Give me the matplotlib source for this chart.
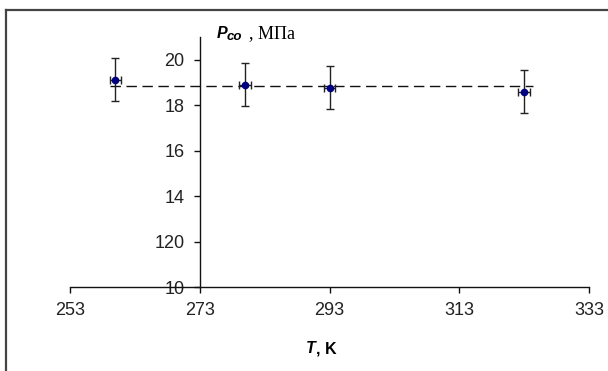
import matplotlib
matplotlib.use("Agg")
import matplotlib.pyplot as plt
from matplotlib.lines import Line2D

# measured points: temperature, K and pressure, MPa
temps = [260, 280, 293, 323]
temp_err = [0.9, 0.9, 0.9, 0.9]
pressures = [19.13, 18.90, 18.77, 18.59]
pressure_err = [0.95, 0.95, 0.95, 0.95]

# mean level shown as dashed line
mean_x = [259.2, 324.3]
mean_p = [18.85, 18.85]

x_ticks = [253, 273, 293, 313, 333]
y_ticks = [10, 12, 14, 16, 18, 20]
y_tick_labels = ["10", "120", "14", "16", "18", "20"]

W, H = 608, 371
fig = plt.figure(figsize=(W / 100, H / 100), dpi=100)
fig.patch.set_facecolor("white")

ax = fig.add_axes([70 / W, (H - 287) / H, 519 / W, 250 / H])
ax.set_xlim(253, 333)
ax.set_ylim(10, 21)

for side in ["top", "right"]:
    ax.spines[side].set_visible(False)
ax.spines["left"].set_position(("data", 273))
for side in ["left", "bottom"]:
    ax.spines[side].set_linewidth(1.0)
    ax.spines[side].set_color("#111111")

ax.set_xticks(x_ticks)
ax.set_xticklabels([str(t) for t in x_ticks])
ax.set_yticks(y_ticks)
ax.set_yticklabels(y_tick_labels)
ax.tick_params(direction="out", length=4.5, width=1.0, color="#111111",
               labelsize=13, labelcolor="#222222")
ax.tick_params(axis="x", pad=6.5)
ax.tick_params(axis="y", pad=6.5)
for lab in ax.get_xticklabels() + ax.get_yticklabels():
    lab.set_family("Liberation Sans")

ax.plot(mean_x, mean_p, color="#111111", lw=1.0, dashes=(7.5, 4), zorder=2)

ax.errorbar(temps, pressures, xerr=temp_err, yerr=pressure_err, fmt="o",
            color="#000080", markersize=4.5, ecolor="#222222",
            elinewidth=1.0, capsize=3.2, capthick=1.0, zorder=3)

# axis titles
fig.text(316 / W, 1 - 353 / H, "T", fontsize=11.5, fontweight="bold",
         fontstyle="italic", family="Liberation Sans", ha="right", va="baseline")
fig.text(316 / W, 1 - 353 / H, ", K", fontsize=11.5, fontweight="bold",
         family="Liberation Sans", ha="left", va="baseline")

fig.text(217 / W, 1 - 38 / H, "P", fontsize=11.5, fontweight="bold",
         fontstyle="italic", family="Liberation Sans", ha="left", va="baseline")
fig.text(227 / W, 1 - 40 / H, "co", fontsize=9.5, fontweight="bold",
         fontstyle="italic", family="Liberation Sans", ha="left", va="baseline")
fig.text(249 / W, 1 - 38 / H, ", МПа", fontsize=13, family="Liberation Serif",
         ha="left", va="baseline")

# chart area border (left and top edges only)
fig.add_artist(Line2D([6 / W, 6 / W], [0, 1 - 10 / H], transform=fig.transFigure,
                      color="#444444", lw=1.6))
fig.add_artist(Line2D([6 / W, 1], [1 - 10 / H, 1 - 10 / H], transform=fig.transFigure,
                      color="#444444", lw=1.6))

fig.savefig("out.png", dpi=100, facecolor="white")
